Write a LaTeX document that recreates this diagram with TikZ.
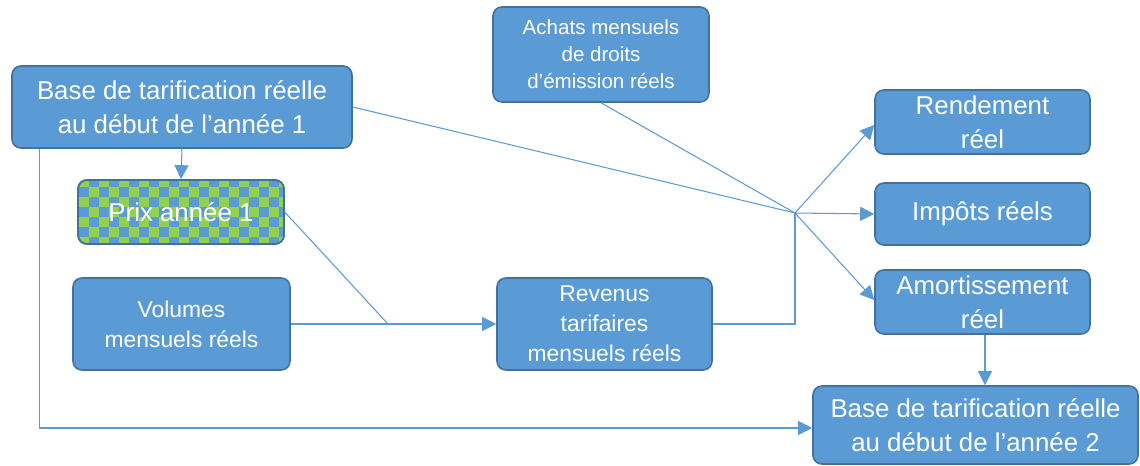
\documentclass[tikz,border=0pt]{standalone}
\usepackage{fontspec}
\setmainfont{Liberation Sans}
\usetikzlibrary{arrows.meta,patterns,calc}
\definecolor{boxfill}{HTML}{5B9BD5}
\definecolor{boxline}{HTML}{41719C}
\definecolor{linecol}{HTML}{5B9BD5}
\definecolor{checkgreen}{HTML}{92D050}
\begin{document}
\begin{tikzpicture}[x=0.02cm,y=-0.02cm,
  box/.style={draw=boxline, line width=0.9pt, fill=boxfill, rounded corners=5pt,
    text=white, align=center, inner sep=1pt},
  bigtxt/.style={font=\fontsize{14.7}{19.3}\selectfont},
  midtxt/.style={font=\fontsize{13}{17}\selectfont},
  smalltxt/.style={font=\fontsize{11.7}{15.3}\selectfont},
  conn/.style={draw=linecol, line width=0.6pt},
  arr/.style={conn, -{Triangle[length=8pt,width=8pt]}},
]
\useasboundingbox (0,0) rectangle (1140,466);

\node[box,bigtxt,minimum width=6.8cm,minimum height=1.64cm] (base1) at (182,107) {Base de tarification réelle\\au début de l’année 1};
\node[box,bigtxt,minimum width=4.12cm,minimum height=1.28cm,
  preaction={fill=boxfill}, pattern=checkerboard, pattern color=checkgreen] (prix) at (181,212) {Prix année 1};
\node[draw=boxline, line width=0.9pt, rounded corners=5pt, minimum width=4.12cm,minimum height=1.28cm] at (181,212) {};
\node[box,midtxt,minimum width=4.34cm,minimum height=1.84cm] (vol) at (181.5,324) {Volumes\\mensuels réels};
\node[box,midtxt,minimum width=4.3cm,minimum height=1.84cm] (rev) at (604.5,324) {Revenus\\tarifaires\\mensuels réels};
\node[box,smalltxt,minimum width=4.32cm,minimum height=1.9cm] (ach) at (601,54.5) {Achats mensuels\\de droits\\d’émission réels};
\node[box,bigtxt,minimum width=4.3cm,minimum height=1.28cm] (rend) at (982.5,122) {Rendement\\réel};
\node[box,bigtxt,minimum width=4.3cm,minimum height=1.24cm] (imp) at (982.5,214) {Impôts réels};
\node[box,bigtxt,minimum width=4.3cm,minimum height=1.28cm] (amort) at (982.5,302) {Amortissement\\réel};
\node[box,bigtxt,minimum width=6.5cm,minimum height=1.56cm] (base2) at (975.5,425) {Base de tarification réelle\\au début de l’année 2};

\coordinate (hub) at (795,213);
\coordinate (junc) at (388,324);

\draw[arr] (base1.south) -- (prix.north);
\draw[arr] ([xshift=0.56cm]base1.south west) |- ([yshift=-0.06cm]base2.west);
\draw[conn] (base1.east) -- (hub);
\draw[conn] (ach.south) -- (hub);
\draw[conn] (prix.east) -- (junc);
\draw[arr] (vol.east) -- (rev.west);
\draw[conn] (rev.east) -| (hub);
\draw[arr] (hub) -- ([yshift=-0.06cm]rend.west);
\draw[arr] (hub) -- (imp.west);
\draw[arr] (hub) -- ([yshift=0.04cm]amort.west);
\draw[arr] ([xshift=0.05cm]amort.south) -- ([xshift=0.05cm]amort.south |- base2.north);
\end{tikzpicture}
\end{document}
